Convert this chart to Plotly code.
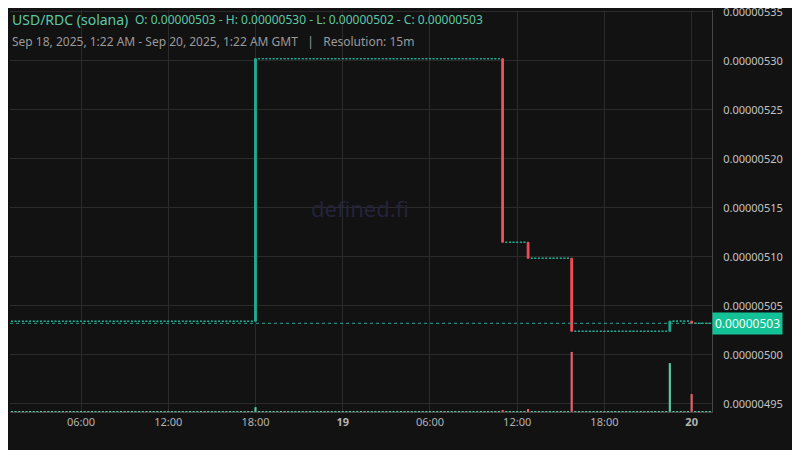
import plotly.graph_objects as go
import pandas as pd

# 15m candles (GMT)
first_candle = "2025-09-18 01:15"
last_candle = "2025-09-20 01:15"
open_price = 0.0000050344

# candles where the price moved; every other candle repeats the last close
move_time = ["2025-09-18 18:00", "2025-09-19 11:00", "2025-09-19 12:45",
             "2025-09-19 15:45", "2025-09-19 22:30", "2025-09-20 00:00"]
move_close = [0.0000053023, 0.0000051150, 0.0000050987,
              0.0000050242, 0.0000050345, 0.0000050323]
move_volume = [1.0, 0.35, 0.6, 12.4, 10.1, 3.7]

tick_times = ["2025-09-18 06:00", "2025-09-18 12:00", "2025-09-18 18:00", "2025-09-19 00:00",
              "2025-09-19 06:00", "2025-09-19 12:00", "2025-09-19 18:00", "2025-09-20 00:00"]
tick_text = ["06:00", "12:00", "18:00", "<b>19</b>", "06:00", "12:00", "18:00", "<b>20</b>"]

UP = "#22ab94"
DOWN = "#f0505a"
BG = "#121212"
GRID = "#2b2b2b"

times = pd.date_range(first_candle, last_candle, freq="15min")
moves = pd.DataFrame({"close": move_close, "volume": move_volume}, index=pd.to_datetime(move_time))
close = moves["close"].reindex(times).ffill().fillna(open_price)
opn = close.shift(1).fillna(open_price)
high = pd.concat([opn, close], axis=1).max(axis=1)
low = pd.concat([opn, close], axis=1).min(axis=1)
volume = moves["volume"].reindex(times).fillna(0)
moved = opn != close

def pick(s, mask):
    return [v if m else None for v, m in zip(s, mask)]

fig = go.Figure()

vol_colors = ["#5cc6a3" if c >= o else "#e5616c" for o, c in zip(opn, close)]
fig.add_trace(go.Bar(
    x=times, y=volume.clip(lower=0.2), yaxis="y2",
    width=9 * 60 * 1000, marker=dict(color=vol_colors, line=dict(width=0)),
    hoverinfo="skip", showlegend=False
))

# flat (no trade) candles
flat = ~moved
fig.add_trace(go.Candlestick(
    x=times, open=pick(opn, flat), high=pick(high, flat), low=pick(low, flat), close=pick(close, flat),
    increasing=dict(line=dict(color=UP, width=1), fillcolor=UP),
    decreasing=dict(line=dict(color=UP, width=1), fillcolor=UP),
    showlegend=False, hoverinfo="skip"
))

fig.add_trace(go.Candlestick(
    x=times, open=pick(opn, moved), high=pick(high, moved), low=pick(low, moved), close=pick(close, moved),
    increasing=dict(line=dict(color=UP, width=1), fillcolor=UP),
    decreasing=dict(line=dict(color=DOWN, width=1), fillcolor=DOWN),
    showlegend=False
))

last = close.iloc[-1]
ohlc = "O: %.8f - H: %.8f - L: %.8f - C: %.8f" % (opn.iloc[0], high.max(), low.min(), last)

fig.add_hline(y=last, line=dict(color=UP, width=1, dash="dot"))

# header background hides the grid behind the legend text
fig.add_shape(type="rect", xref="paper", yref="paper", x0=-0.02, x1=0.688, y0=0.8955, y1=1.03,
              fillcolor=BG, line=dict(width=0), layer="between")

fig.add_annotation(x=0, y=0.9776, xref="paper", yref="paper", xanchor="left", yanchor="middle",
                   text="USD/RDC (solana)", showarrow=False,
                   font=dict(size=14, color="#5ec8a5"))
fig.add_annotation(x=(133 - 10) / 702, y=0.9776, xref="paper", yref="paper", xanchor="left",
                   yanchor="middle", text=ohlc, showarrow=False,
                   font=dict(size=12, color="#5ec8a5"))
fig.add_annotation(x=0, y=(412 - 41) / 402, xref="paper", yref="paper", xanchor="left",
                   yanchor="middle", showarrow=False,
                   text="Sep 18, 2025, 1:22 AM - Sep 20, 2025, 1:22 AM GMT\u00a0\u00a0\u00a0|\u00a0\u00a0\u00a0Resolution: 15m",
                   font=dict(size=12, color="#9a9a9a"))
fig.add_annotation(x=0.4986, y=0.5075, xref="paper", yref="paper", text="defined.fi",
                   showarrow=False, font=dict(size=22, color="#24233a"))
fig.add_annotation(x=1, y=last, xref="paper", yref="y", xanchor="left", yanchor="middle",
                   text="%.8f" % last, showarrow=False, bgcolor="#12c296", borderpad=2,
                   font=dict(size=12, color="#f2fffa"))

# the page adds an 8px body margin, so the figure is sized to fit the window
fig.update_layout(
    width=792, height=442,
    margin=dict(l=2, r=88, t=2, b=38),
    paper_bgcolor=BG, plot_bgcolor=BG,
    font=dict(family="Noto Sans", color="#b3b3b3"),
    xaxis=dict(
        type="date", range=["2025-09-18 01:07", "2025-09-20 01:24"],
        rangeslider=dict(visible=False), automargin=False,
        tickvals=tick_times, ticktext=tick_text, tickfont=dict(size=11, color="#b3b3b3"),
        showgrid=True, gridcolor=GRID, gridwidth=1,
        showline=True, linecolor="#474747", linewidth=1, ticks="", zeroline=False
    ),
    yaxis=dict(
        side="right", range=[0.0000049418, 0.000005352],
        dtick=0.00000005, tick0=0.00000495, tickformat=".8f",
        tickfont=dict(size=11, color="#c2c2c2"), ticklabelstandoff=8,
        ticklabeloverflow="allow", automargin=False,
        showgrid=True, gridcolor=GRID, gridwidth=1,
        showline=True, linecolor="#474747", linewidth=1, ticks="", zeroline=False
    ),
    yaxis2=dict(overlaying="y", range=[0, 83], visible=False, showgrid=False),
    hovermode="x",
)

fig.write_html("out.html", config={"displayModeBar": False})
